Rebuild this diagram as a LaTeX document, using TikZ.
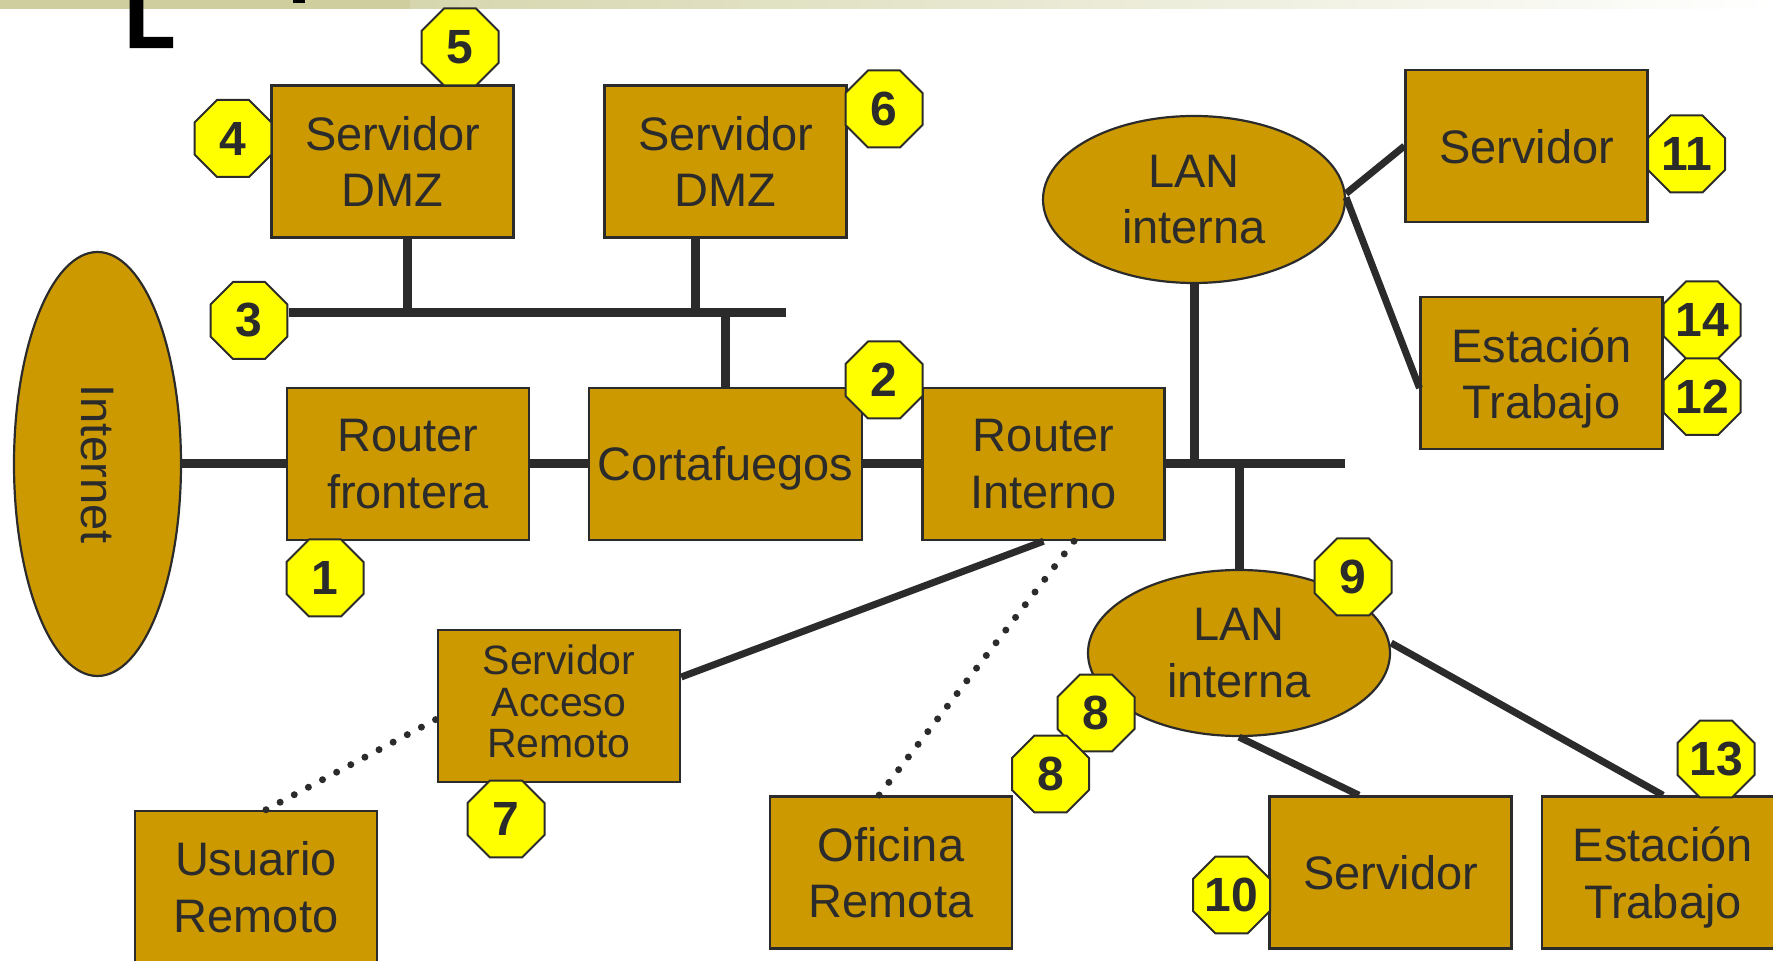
\documentclass[tikz,border=0pt]{standalone}
\usepackage{fontspec}
\setmainfont{Liberation Sans}
\usetikzlibrary{shapes.geometric}

\definecolor{gold}{HTML}{CC9900}
\definecolor{edge}{HTML}{2B2B2B}
\definecolor{badgeyellow}{HTML}{FFFF00}
\definecolor{bandkhaki}{HTML}{CECE9E}
\definecolor{bandlight}{HTML}{D6D6AE}

\newcommand\netfont{\fontsize{23.5}{28.25}\selectfont}
\newcommand\netsmallfont{\fontsize{20.5}{20.75}\selectfont}
\newcommand\tagfont{\fontsize{24}{24}\selectfont\bfseries}
\newfontfamily\headfont[FakeBold=3]{Liberation Sans Bold}

\begin{document}
\begin{tikzpicture}[x=0.5pt,y=-0.5pt,
  unit/.style={rectangle, draw=edge, line width=1.25pt, fill=gold, text=edge,
    font=\netfont, align=center, inner sep=0pt, text depth=0pt,
    minimum width=121pt, minimum height=76pt},
  lan/.style={ellipse, draw=edge, line width=1.1pt, fill=gold, text=edge,
    font=\netfont, align=center, inner sep=0pt, text depth=0pt},
  badge/.style={regular polygon, regular polygon sides=8, draw=edge,
    line width=1pt, fill=badgeyellow, text=edge, font=\tagfont,
    minimum size=41.67pt, inner sep=0pt},
  bus/.style={draw=edge, line width=4.5pt},
  wirethin/.style={draw=edge, line width=3.5pt},
  dialup/.style={draw=edge, line width=3.5pt, line cap=round,
    dash pattern=on 0pt off 8pt},
]
\useasboundingbox (0,0) rectangle (1773,961);
\clip (0,0) rectangle (1773,961);

% header band with the cut-off title
\fill[bandkhaki] (0,0) rectangle (410,9.3);
\shade[left color=bandlight, right color=white] (410,0) rectangle (1773,9);
\node[anchor=base west, inner sep=0pt, font=\headfont\fontsize{40}{40}\selectfont]
  (title) at (125,47) {L};
\fill[black] (293,0) rectangle (305,3);

% Internet cloud
\node[lan, minimum width=83.5pt, minimum height=212pt] (inet) at (97.5,464) {};
\node[rotate=-90, font=\netfont, text=edge, inner sep=0pt] (inettext) at (inet) {Internet};

% perimeter devices
\node[unit] (rf) at (408,464) {Router\\frontera};
\node[unit, minimum width=136.5pt] (cf) at (725.5,464) {Cortafuegos};
\node[unit] (ri) at (1043.5,464) {Router\\Interno};

% DMZ servers
\node[unit] (dmz1) at (392.7,161.5) {Servidor\\DMZ};
\node[unit] (dmz2) at (725.6,161.5) {Servidor\\DMZ};

% internal LAN (upper)
\node[lan, minimum width=151pt, minimum height=83.5pt] (lanA) at (1194,199.5) {LAN\\interna};
\node[unit] (srvA) at (1526.7,146) {Servidor};
\node[unit] (estA) at (1541.7,373) {Estación\\Trabajo};

% internal LAN (lower)
\node[lan, minimum width=151pt, minimum height=83pt] (lanB) at (1239,653) {LAN\\interna};
\node[unit] (srvB) at (1390.5,872.5) {Servidor};
\node[unit] (estB) at (1663,872.5) {Estación\\Trabajo};

% remote access
\node[unit, font=\netsmallfont, text depth=4.5pt] (sar) at (559,706) {Servidor\\Acceso\\Remoto};
\node[unit] (ur) at (256,887) {Usuario\\Remoto};
\node[unit] (ofr) at (891,872.5) {Oficina\\Remota};

% bus junctions
\coordinate (busE) at (786,312.3);
\coordinate (j1) at (407.6,312.3);
\coordinate (j2) at (695.5,312.3);
\coordinate (j3) at (725.5,312.3);
\coordinate (busR) at (1345,464);

% badges
\node[badge] (b1) at (325,578) {1};
\node[badge] (b2) at (884,380) {2};
\node[badge] (b3) at (249,320.5) {3};
\node[badge] (b4) at (233,138.5) {4};
\node[badge] (b5) at (460,47) {5};
\node[badge] (b6) at (884,109) {6};
\node[badge] (b7) at (506,819) {7};
\node[badge] (b8a) at (1096,713) {8};
\node[badge] (b8b) at (1050.5,774) {8};
\node[badge] (b9) at (1353,577) {9};
\node[badge] (b10) at (1231.5,895) {10};
\node[badge] (b11) at (1686.5,154) {11};
\node[badge] (b12) at (1702,396.5) {12};
\node[badge] (b13) at (1716,759) {13};
\node[badge] (b14) at (1702,320) {14};

% backbone
\draw[bus] (inet.east) -- (rf.west);
\draw[bus] (rf.east) -- (cf.west);
\draw[bus] (cf.east) -- (ri.west);
\draw[bus] (ri.east) -- (busR);
\draw[bus] (lanA.south) -- (lanA.south |- busR);
\draw[bus] (lanB.north |- busR) -- (lanB.north);

% DMZ segment
\draw[bus] (b3.east |- busE) -- (busE);
\draw[bus] (dmz1.south -| j1) -- (j1);
\draw[bus] (dmz2.south -| j2) -- (j2);
\draw[bus] (j3) -- (cf.north);

% LAN links
\draw[wirethin] ([yshift=3pt]lanA.east) -- (srvA.west);
\draw[wirethin] ([yshift=1pt]lanA.east) -- ([yshift=-7.5pt]estA.west);
\draw[wirethin] (lanB.south) -- ([xshift=-15.75pt]srvB.north);
\draw[wirethin] ([yshift=5pt]lanB.east) -- (estB.north);

% remote access links
\draw[wirethin] ([yshift=14.5pt]sar.east) -- (ri.south);
\draw[dialup] ([xshift=5pt]ur.north) -- ([yshift=-6.5pt]sar.west);
\draw[dialup] ([xshift=15.25pt]ri.south) -- ([xshift=-6pt]ofr.north);
\end{tikzpicture}
\end{document}
